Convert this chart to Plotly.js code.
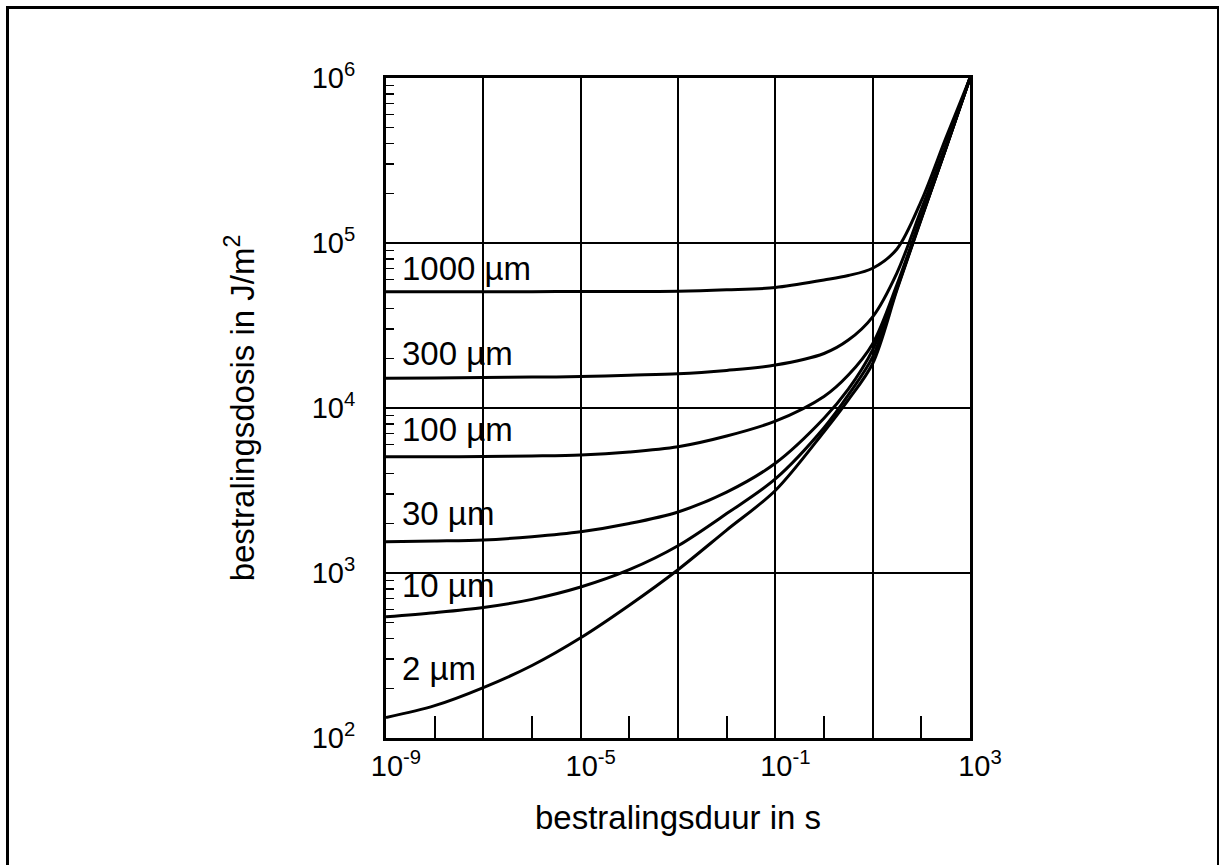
<!DOCTYPE html>
<html>
<head>
<meta charset="utf-8">
<script src="https://cdn.plot.ly/plotly-3.0.1.min.js"></script>
<style>
  html, body { margin: 0; padding: 0; background: #fff; overflow: hidden; }
  #chart { width: 1220px; height: 865px; }
  #frame { position: absolute; left: 6px; top: 6px; width: 1208px; height: 900px;
           border-left: 3px solid #000; border-top: 3px solid #000; border-right: 2px solid #000;
           pointer-events: none; }
</style>
</head>
<body>
<div id="chart"></div>
<div id="frame"></div>
<script>
// irradiation duration in s
const duration = [1e-9, 1e-8, 1e-7, 1e-6, 1e-5, 1e-4, 1e-3, 1e-2, 1e-1, 1, 3.16, 10, 31.6, 100, 316, 1000];

// irradiation dose in J/m^2 for each layer thickness
const dose2um    = [133, 157, 202, 275, 405, 638, 1047, 1820, 3162, 7180, 11200, 18600, 52000, 140000, 370000, 1000000];
const dose10um   = [543, 575, 618, 692, 822, 1047, 1462, 2291, 3715, 7590, 12000, 20400, 53000, 141000, 371000, 1000000];
const dose30um   = [1549, 1563, 1585, 1660, 1778, 1995, 2344, 3090, 4624, 8670, 13000, 22500, 54000, 142000, 372000, 1000000];
const dose100um  = [5070, 5070, 5080, 5120, 5190, 5410, 5820, 6760, 8320, 11750, 15850, 24550, 56000, 145000, 375000, 1000000];
const dose300um  = [15130, 15200, 15280, 15400, 15500, 15800, 16100, 16900, 18200, 21400, 25800, 35700, 66000, 160000, 390000, 1000000];
const dose1000um = [50700, 50700, 50700, 50700, 50800, 50900, 51000, 52000, 53700, 59700, 63500, 70300, 92000, 180000, 430000, 1000000];

const seriesLabels = ['2 µm', '10 µm', '30 µm', '100 µm', '300 µm', '1000 µm'];
const seriesDose = [dose2um, dose10um, dose30um, dose100um, dose300um, dose1000um];
// dose level at which each curve label sits (left side of the plot)
const labelDose = [265, 845, 2300, 7360, 21500, 70500];

const xTickVals = [1e-9, 1e-7, 1e-5, 1e-3, 1e-1, 1e1, 1e3];
const xTickText = ['10<sup>-9</sup>', '', '10<sup>-5</sup>', '', '10<sup>-1</sup>', '', '10<sup>3</sup>'];
const xSmallTickVals = [1e-8, 1e-6, 1e-4, 1e-2, 1e0, 1e2];
const yTickVals = [1e2, 1e3, 1e4, 1e5, 1e6];
const yTickText = ['10<sup>2</sup>', '10<sup>3</sup>', '10<sup>4</sup>', '10<sup>5</sup>', '10<sup>6</sup>'];
const yMinorVals = [];
for (let d = 2; d < 6; d++) { for (let m = 2; m <= 9; m++) yMinorVals.push(m * Math.pow(10, d)); }

const FONT = 'Liberation Sans, Arial, Helvetica, sans-serif';

const traces = seriesDose.map((ys, i) => ({
  type: 'scatter', mode: 'lines', x: duration, y: ys, name: seriesLabels[i],
  line: { color: '#000', width: 3, shape: 'spline', smoothing: 0.9 },
  hoverinfo: 'skip', showlegend: false
}));

const annotations = seriesLabels.map((t, i) => ({
  text: t, x: -8.72, y: Math.log10(labelDose[i]), xref: 'x', yref: 'y',
  xanchor: 'left', yanchor: 'middle', showarrow: false,
  font: { family: FONT, size: 33, color: '#000' }
}));

const layout = {
  width: 1220, height: 865,
  margin: { l: 386, r: 250, t: 78, b: 127 },
  paper_bgcolor: '#fff', plot_bgcolor: '#fff',
  showlegend: false,
  font: { family: FONT, color: '#000' },
  xaxis: {
    type: 'log', range: [-9, 3], autorange: false,
    tickmode: 'array', tickvals: xTickVals, ticktext: xTickText,
    ticks: '', tickfont: { family: FONT, size: 29, color: '#000' },
    ticklabelshift: 10,
    showgrid: true, gridcolor: '#000', gridwidth: 2,
    showline: true, linecolor: '#000', linewidth: 3, mirror: true,
    zeroline: false,
    minor: { tickmode: 'array', tickvals: xSmallTickVals, ticks: 'inside', ticklen: 22, tickwidth: 2, tickcolor: '#000', showgrid: false },
    title: { text: 'bestralingsduur in s', font: { family: FONT, size: 33, color: '#000' }, standoff: 26 }
  },
  yaxis: {
    type: 'log', range: [2, 6], autorange: false,
    tickmode: 'array', tickvals: yTickVals, ticktext: yTickText,
    ticks: '', tickfont: { family: FONT, size: 29, color: '#000' },
    ticklabelstandoff: 22,
    showgrid: true, gridcolor: '#000', gridwidth: 2,
    showline: true, linecolor: '#000', linewidth: 3, mirror: true,
    zeroline: false,
    minor: { tickmode: 'array', tickvals: yMinorVals, ticks: 'inside', ticklen: 8, tickwidth: 1.6, tickcolor: '#000', showgrid: false },
    title: { text: 'bestralingsdosis in J/m<sup>2</sup>', font: { family: FONT, size: 33, color: '#000' }, standoff: 48 }
  },
  annotations: annotations
};

Plotly.newPlot('chart', traces, layout, { displayModeBar: false, staticPlot: true });
</script>
</body>
</html>
